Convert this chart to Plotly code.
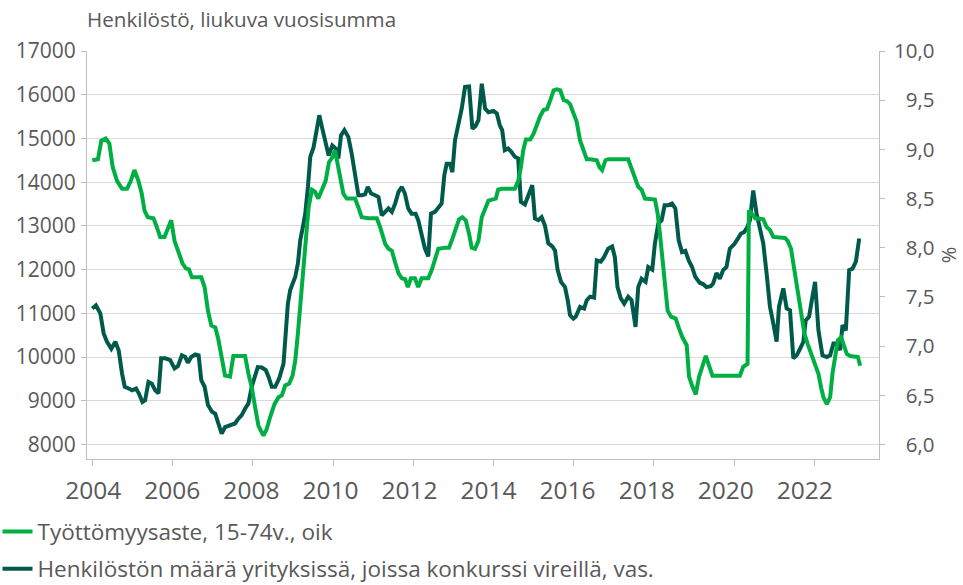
import plotly.graph_objects as go

# ---- data ----
# months since January 2004
dark_months = [0, 1.1, 2.4, 3.4, 4.4, 5.7, 6.9, 7.9, 8.9, 9.7, 10.9, 11.9, 13.1, 13.9, 15.0, 15.8, 16.8, 17.8, 18.8, 19.8,
               20.6, 21.8, 23.3, 24.6, 25.6, 26.8, 27.8, 28.6, 29.6, 30.8, 31.8, 32.6, 33.6, 34.6, 35.8, 36.8, 37.7, 38.7,
               39.7, 41.2, 42.7, 43.7, 44.7, 45.7, 46.7, 47.7, 48.7, 49.5, 50.7, 51.9, 52.7, 53.7, 54.7, 55.9, 57.2, 57.9,
               58.5, 59.2, 60.2, 60.7, 61.5, 62.2, 62.9, 63.7, 64.5, 65.2, 66.2, 66.9, 67.9, 68.7, 69.7, 70.7, 71.8, 72.8,
               73.6, 74.4, 75.4, 76.6, 77.6, 78.6, 79.6, 80.6, 81.6, 82.4, 83.4, 84.6, 85.6, 86.6, 87.6, 88.6, 89.6, 90.6,
               91.6, 92.6, 93.5, 94.5, 95.5, 96.7, 97.5, 98.5, 99.5, 100.5, 101.3, 102.5, 103.5, 104.5, 105.3, 106.0, 107.0,
               107.7, 108.5, 109.5, 110.5, 111.5, 112.7, 113.7, 114.6, 115.5, 116.5, 117.5, 118.5, 120.0, 121.0, 121.9,
               122.6, 123.4, 124.4, 125.4, 126.4, 127.4, 128.2, 129.4, 130.4, 131.6, 132.4, 133.4, 134.4, 135.4, 136.4,
               137.6, 138.4, 139.2, 140.2, 141.4, 142.2, 142.9, 143.9, 144.6, 145.9, 147.1, 147.9, 148.9, 150.1, 150.9,
               152.1, 153.1, 154.3, 155.5, 156.3, 157.1, 158.1, 159.1, 160.3, 161.3, 162.5, 163.3, 164.3, 165.5, 166.3,
               167.5, 168.3, 169.3, 170.3, 171.2, 172.2, 173.4, 174.4, 175.4, 176.4, 177.4, 178.4, 179.4, 180.4, 181.7,
               182.7, 183.7, 185.0, 185.7, 186.7, 187.7, 188.7, 189.7, 190.7, 192.0, 193.1, 194.0, 195.0, 196.0, 196.7,
               197.7, 198.7, 199.7, 200.7, 201.7, 202.7, 203.7, 204.7, 205.4, 206.7, 207.7, 208.7, 209.7, 210.7, 211.7,
               212.7, 213.4, 214.4, 215.4, 216.2, 217.2, 218.4, 219.7, 220.7, 221.7, 222.7, 223.7, 224.4, 225.4, 226.4,
               227.4, 228.4, 229.4]
dark_values = [11110, 11180, 11000, 10540, 10350, 10190, 10350, 10150, 9620, 9320, 9280, 9240, 9280, 9170, 8970, 9010,
               9430, 9390, 9240, 9170, 9970, 9970, 9930, 9740, 9790, 10040, 10000, 9870, 10000, 10060, 10040, 9470, 9320,
               8900, 8750, 8700, 8480, 8250, 8400, 8440, 8480, 8590, 8670, 8820, 8940, 9320, 9620, 9770, 9760, 9700, 9550,
               9320, 9320, 9510, 9850, 10540, 11220, 11530, 11720, 11830, 12140, 12670, 12940, 13280, 13890, 14580, 14800,
               15110, 15530, 15260, 14960, 14610, 14840, 14770, 14540, 15070, 15190, 15030, 14650, 14200, 13700, 13700,
               13720, 13890, 13740, 13700, 13660, 13240, 13320, 13400, 13320, 13510, 13780, 13890, 13740, 13400, 13280,
               13280, 13130, 12750, 12480, 12300, 13280, 13320, 13400, 13510, 14160, 14420, 14420, 14230, 14960, 15300,
               15680, 16180, 16190, 15220, 15280, 15420, 16250, 15680, 15600, 15630, 15570, 15300, 15190, 14730, 14770,
               14690, 14580, 14540, 13550, 13490, 13700, 13930, 13170, 13130, 13200, 13010, 12600, 12530, 12440, 11990,
               11720, 11600, 11300, 10960, 10880, 10920, 11150, 11110, 11300, 11380, 11360, 12210, 12180, 12290, 12480,
               12530, 12290, 11600, 11340, 11220, 11380, 11300, 10690, 11600, 11790, 11720, 12060, 12000, 12600, 13050,
               13130, 13470, 13470, 13510, 13400, 12670, 12400, 12430, 12210, 12060, 11830, 11700, 11670, 11600, 11620,
               11680, 11920, 11790, 11990, 12060, 12480, 12580, 12710, 12820, 12860, 12980, 13130, 13810, 13280, 12980,
               12600, 11910, 11150, 10770, 10350, 11150, 11570, 11110, 11070, 9970, 10040, 10190, 10350, 10840, 10920,
               11380, 11720, 10610, 10040, 10000, 10040, 10310, 10310, 10160, 10730, 10610, 11990, 12020, 12180, 12710]

green_months = [0, 1.7, 2.7, 4.0, 5.1, 6.1, 7.4, 8.9, 10.4, 11.4, 12.6, 13.8, 14.8, 15.6, 16.6, 18.3, 19.3, 20.3, 21.6,
                22.6, 23.6, 24.6, 25.8, 27.0, 28.0, 28.9, 29.8, 31.3, 32.6, 33.6, 34.6, 35.6, 36.8, 37.7, 38.7, 39.7, 41.2,
                42.2, 43.7, 45.7, 46.7, 47.7, 48.7, 49.7, 51.2, 52.2, 53.2, 54.5, 55.7, 56.7, 57.7, 58.9, 59.9, 60.7, 61.5,
                62.2, 62.9, 63.7, 64.7, 65.7, 66.6, 67.6, 68.6, 69.8, 70.8, 71.8, 72.6, 73.4, 74.1, 75.1, 76.1, 78.6, 79.6,
                80.6, 82.6, 85.1, 86.1, 87.6, 88.6, 89.6, 90.6, 91.6, 92.6, 93.6, 94.4, 95.3, 96.5, 97.5, 98.5, 100.5,
                101.5, 102.5, 103.5, 105.5, 106.7, 107.7, 108.7, 109.7, 110.7, 111.7, 112.7, 113.5, 114.5, 115.5, 116.5,
                117.5, 118.5, 119.5, 120.7, 121.4, 122.4, 126.4, 127.4, 128.2, 128.9, 129.7, 131.0, 132.0, 133.0, 134.0,
                135.0, 136.0, 137.0, 138.0, 139.0, 140.0, 141.0, 142.0, 142.9, 143.9, 144.9, 145.9, 146.9, 147.9, 148.9,
                150.9, 151.7, 152.5, 153.5, 154.3, 160.3, 161.3, 162.3, 163.3, 164.3, 165.3, 168.3, 169.1, 169.8, 170.5,
                171.3, 172.1, 173.1, 174.5, 175.5, 176.5, 177.8, 178.5, 179.4, 180.5, 181.5, 182.5, 183.5, 184.5, 185.5,
                193.7, 194.7, 196.0, 196.4, 197.2, 198.3, 200.7, 201.7, 202.7, 203.7, 207.2, 208.0, 209.0, 210.0, 211.0,
                212.0, 213.0, 214.0, 215.0, 216.0, 217.2, 218.0, 218.7, 219.7, 220.7, 221.4, 222.2, 223.0, 224.0, 224.7,
                225.7, 226.7, 228.2, 229.0, 229.7]
green_values = [8.89, 8.90, 9.09, 9.11, 9.06, 8.82, 8.68, 8.60, 8.60, 8.67, 8.79, 8.68, 8.55, 8.38, 8.31, 8.30, 8.21, 8.11,
                8.11, 8.21, 8.28, 8.07, 7.96, 7.84, 7.79, 7.78, 7.70, 7.70, 7.70, 7.60, 7.36, 7.21, 7.19, 7.07, 6.89, 6.70,
                6.69, 6.90, 6.90, 6.90, 6.72, 6.58, 6.38, 6.19, 6.09, 6.16, 6.28, 6.41, 6.48, 6.50, 6.60, 6.62, 6.70, 6.85,
                7.13, 7.40, 7.74, 8.07, 8.41, 8.59, 8.57, 8.50, 8.58, 8.68, 8.87, 8.92, 8.99, 8.85, 8.68, 8.55, 8.50, 8.50,
                8.41, 8.31, 8.30, 8.30, 8.21, 8.04, 7.99, 7.97, 7.85, 7.74, 7.69, 7.68, 7.60, 7.69, 7.69, 7.60, 7.69, 7.69,
                7.77, 7.89, 7.99, 8.00, 8.00, 8.09, 8.19, 8.29, 8.31, 8.28, 8.14, 8.00, 7.99, 8.07, 8.31, 8.40, 8.48, 8.49,
                8.50, 8.59, 8.60, 8.60, 8.68, 8.82, 8.99, 9.10, 9.10, 9.16, 9.26, 9.34, 9.40, 9.41, 9.50, 9.60, 9.61, 9.60,
                9.50, 9.49, 9.46, 9.38, 9.28, 9.09, 8.99, 8.90, 8.90, 8.89, 8.82, 8.79, 8.89, 8.90, 8.90, 8.80, 8.70, 8.62,
                8.59, 8.50, 8.49, 8.35, 8.14, 7.90, 7.63, 7.36, 7.30, 7.28, 7.18, 7.09, 7.01, 6.69, 6.60, 6.51, 6.69, 6.79,
                6.90, 6.80, 6.70, 6.70, 6.79, 6.82, 8.38, 8.35, 8.30, 8.29, 8.21, 8.18, 8.11, 8.10, 8.07, 7.99, 7.77, 7.53,
                7.33, 7.13, 7.02, 6.92, 6.82, 6.72, 6.58, 6.48, 6.41, 6.48, 6.72, 6.92, 7.06, 7.09, 7.01, 6.92, 6.90, 6.90,
                6.89, 6.80]

year_ticks = [2004, 2006, 2008, 2010, 2012, 2014, 2016, 2018, 2020, 2022]
left_ticks = [8000, 9000, 10000, 11000, 12000, 13000, 14000, 15000, 16000, 17000]
right_ticks = [6.0, 6.5, 7.0, 7.5, 8.0, 8.5, 9.0, 9.5, 10.0]
right_labels = ["\u20076,0", "\u20076,5", "\u20077,0", "\u20077,5", "\u20078,0", "\u20078,5", "\u20079,0", "\u20079,5", "10,0"]

green_name = "Työttömyysaste, 15-74v., oik"
dark_name = "Henkilöstön määrä yrityksissä, joissa konkurssi vireillä, vas."
title_text = "Henkilöstö, liukuva vuosisumma"

LIGHT = "#00AF43"
DARK = "#005A4B"
TXT = "#595959"
AXC = "#BFBFBF"
FONT = "Open Sans"

dark_x = [2004 + m / 12 for m in dark_months]
green_x = [2004 + m / 12 for m in green_months]

fig = go.Figure()
fig.add_trace(go.Scatter(x=green_x, y=green_values, name=green_name, mode="lines",
                         line=dict(color=LIGHT, width=4), yaxis="y2", legendgroup="g1"))
fig.add_trace(go.Scatter(x=dark_x, y=dark_values, name=dark_name, mode="lines",
                         line=dict(color=DARK, width=4), yaxis="y", legendgroup="g2"))
# carrier for the year labels axis
fig.add_trace(go.Scatter(x=[year_ticks[0]], y=[None], xaxis="x2", yaxis="y", showlegend=False,
                         hoverinfo="skip", mode="lines"))

fig.update_layout(
    width=963, height=585,
    margin=dict(l=87, r=84, t=51, b=126, autoexpand=False),
    paper_bgcolor="white", plot_bgcolor="white",
    font=dict(family=FONT, color=TXT, size=20),
    showlegend=True,
    legend=dict(x=-0.113, xanchor="left", y=-0.1257, yanchor="top", orientation="v",
                font=dict(size=22.5, color=TXT), tracegroupgap=5, bgcolor="rgba(0,0,0,0)",
                itemwidth=30),
    xaxis=dict(range=[2003.868, 2023.61], tickmode="array", tickvals=year_ticks, showticklabels=False,
               ticks="outside", ticklen=6, tickcolor=AXC, showline=True, linecolor=AXC, linewidth=1,
               showgrid=False, zeroline=False, anchor="y"),
    xaxis2=dict(range=[2003.841, 2023.878], overlaying="x", side="bottom", anchor="y",
                tickmode="array", tickvals=year_ticks, ticktext=[str(y) for y in year_ticks],
                ticks="", showline=False, showgrid=False, zeroline=False,
                tickfont=dict(size=24.5, color=TXT), ticklabelstandoff=14),
    yaxis=dict(range=[7668, 17000], tickmode="array", tickvals=left_ticks,
               ticktext=[str(v) for v in left_ticks], showgrid=True, gridcolor="#D9D9D9", gridwidth=1,
               showline=True, linecolor=AXC, ticks="outside", ticklen=5, tickcolor=AXC,
               zeroline=False, tickfont=dict(size=21, color=TXT), ticklabelstandoff=1),
    yaxis2=dict(range=[5.853, 10], overlaying="y", side="right", tickmode="array", tickvals=right_ticks,
                ticktext=right_labels, showgrid=False, showline=True, linecolor=AXC, ticks="outside",
                ticklen=5, tickcolor=AXC, zeroline=False, tickfont=dict(size=20.5, color=TXT),
                ticklabelstandoff=5,
                title=dict(text="%", font=dict(size=20, color=TXT), standoff=4)),
    annotations=[dict(text=title_text, xref="paper", yref="paper", x=-0.002, y=1.078,
                      xanchor="left", yanchor="middle", showarrow=False,
                      font=dict(size=20.6, color=TXT, family=FONT))],
)

fig.write_html("out.html", config={"displayModeBar": False},
               post_script="document.body.style.margin='0';")
